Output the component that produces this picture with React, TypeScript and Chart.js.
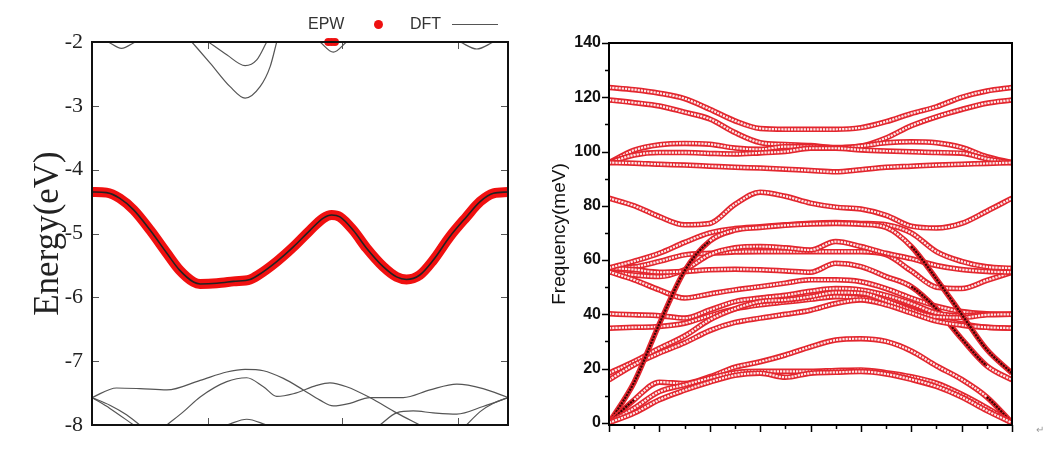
import React, { useEffect, useRef } from "react";
import { Chart, registerables } from "chart.js";
Chart.register(...registerables);

// ---------------- Left panel: electronic bands ----------------
const leftYTicks = [-8, -7, -6, -5, -4, -3, -2];
const leftXTicks = [0.279, 0.601, 0.88];

// EPW interpolated band (red)
const epwK = [0, 0.035, 0.067, 0.1, 0.14, 0.18, 0.21, 0.244, 0.26, 0.3, 0.34, 0.38, 0.4, 0.444, 0.484, 0.524, 0.556, 0.576, 0.596, 0.628, 0.66, 0.7, 0.732, 0.756, 0.788, 0.82, 0.86, 0.9, 0.933, 0.965, 1.0];
const epwE = [-4.35, -4.36, -4.45, -4.63, -4.95, -5.31, -5.57, -5.76, -5.79, -5.78, -5.75, -5.72, -5.65, -5.44, -5.21, -4.95, -4.76, -4.71, -4.74, -4.95, -5.23, -5.52, -5.68, -5.72, -5.65, -5.42, -5.05, -4.74, -4.5, -4.37, -4.35];
const epwTopK = [0.568, 0.576, 0.584];
const epwTopE = [-2, -2, -2];

// DFT bands (gray lines)
const dftArcAK = [0.039, 0.071, 0.104];
const dftArcAE = [-2, -2.1, -2];
const dftVOuterK = [0.24, 0.284, 0.332, 0.368, 0.404, 0.428, 0.444];
const dftVOuterE = [-2, -2.33, -2.7, -2.88, -2.7, -2.39, -2];
const dftVInnerK = [0.28, 0.324, 0.368, 0.396, 0.42];
const dftVInnerE = [-2, -2.2, -2.37, -2.28, -2];
const dftArcCK = [0.548, 0.58, 0.612];
const dftArcCE = [-2, -2.16, -2];
const dftArcDK = [0.885, 0.925, 0.965];
const dftArcDE = [-2, -2.11, -2];
const dftPK = [0, 0.059, 0.115, 0.18, 0.26, 0.324, 0.368, 0.412, 0.46, 0.508, 0.548, 0.58, 0.62, 0.668, 0.748, 0.8125, 0.877, 0.94, 1];
const dftPE = [-7.57, -7.42, -7.43, -7.45, -7.3, -7.17, -7.13, -7.15, -7.27, -7.45, -7.61, -7.7, -7.66, -7.57, -7.57, -7.45, -7.36, -7.43, -7.57];
const dftQK = [0.18, 0.22, 0.26, 0.324, 0.372, 0.412, 0.444, 0.484, 0.54, 0.572, 0.612, 0.668, 0.732, 0.788];
const dftQE = [-8.0, -7.79, -7.56, -7.32, -7.26, -7.4, -7.55, -7.51, -7.38, -7.34, -7.4, -7.57, -7.81, -8.0];
const dftRK = [0.692, 0.732, 0.772, 0.82, 0.877, 0.94, 1];
const dftRE = [-8.0, -7.81, -7.78, -7.81, -7.83, -7.71, -7.57];
const dftSK = [0.9, 0.933, 0.965, 1];
const dftSE = [-8.0, -7.79, -7.66, -7.57];
const dftL1K = [0, 0.043, 0.083, 0.115];
const dftL1E = [-7.57, -7.69, -7.84, -8.0];
const dftL2K = [0, 0.043, 0.1];
const dftL2E = [-7.57, -7.74, -8.0];
const dftBK = [0.324, 0.372, 0.42];
const dftBE = [-8.0, -7.91, -8.0];

const dftBands: [number[], number[]][] = [
  [dftArcAK, dftArcAE], [dftVOuterK, dftVOuterE], [dftVInnerK, dftVInnerE],
  [dftArcCK, dftArcCE], [dftArcDK, dftArcDE], [dftPK, dftPE], [dftQK, dftQE],
  [dftRK, dftRE], [dftSK, dftSE], [dftL1K, dftL1E], [dftL2K, dftL2E], [dftBK, dftBE],
];

// ---------------- Right panel: phonon dispersion ----------------
const qPos = [0, 1, 2, 3, 4, 5, 6, 7, 8, 9, 10, 11, 12, 13, 14, 15, 16];
const rightYTicks = [0, 20, 40, 60, 80, 100, 120, 140];
const rightYMinor = [10, 30, 50, 70, 90, 110, 130];

const phBand01 = [0, 3.6, 8.5, 12, 15, 17.5, 18.3, 16.8, 18.3, 18.6, 18.9, 18, 16, 13.4, 9.5, 4.5, 0];
const phBand02 = [0, 5.4, 11.5, 14, 16.5, 18.5, 19, 19, 19, 19.3, 19.5, 18.5, 17, 14.6, 10.5, 5.5, 0];
const phBand03 = [0, 8.5, 15, 14.5, 17, 20.5, 22.5, 25, 28, 30.5, 31, 30, 26.5, 21, 16, 9.5, 0];
const phBand04 = [0, 15, 36.5, 56, 67, 71, 72, 72.8, 73.3, 73.5, 73.2, 72, 65, 53, 40, 27, 18.3];
const phBand05 = [15.8, 21.4, 25.7, 29.5, 34, 37, 38.6, 40, 41.5, 44, 45.3, 43.5, 40.5, 37.5, 36, 35.2, 34.9];
const phBand06 = [18.3, 22.6, 27.5, 32, 38, 42, 44.7, 45.3, 46.5, 48, 47.8, 45, 41.5, 39, 38.8, 39.8, 40];
const phBand07 = [34.9, 35.2, 35.5, 36.7, 39.5, 42, 43.5, 44.5, 45.5, 46.5, 46, 44.7, 42, 38.5, 36.5, 35.2, 34.9];
const phBand08 = [40.2, 39.8, 39.5, 38.6, 41.6, 44.7, 46, 47, 48.5, 49.5, 49, 47, 44, 40.5, 39.5, 40, 40];
const phBand09 = [57.1, 59.6, 62.5, 66.5, 70, 71.6, 72.3, 73, 73.6, 73.8, 73.5, 73, 70, 63.1, 59.5, 57.5, 57];
const phBand10 = [57.1, 56.5, 55.5, 55.8, 56.4, 56.6, 56.4, 56, 55.5, 58.8, 57.6, 53.9, 50.2, 42, 31, 21, 15.8];
const phBand11 = [55.7, 52.7, 49, 46, 47.5, 49, 50.2, 51.5, 52.7, 52.7, 52, 49.5, 46, 43, 41, 40.2, 40];
const phBand12 = [55.7, 54.5, 53.9, 56.4, 62, 64.5, 65, 64.5, 63.7, 66.8, 65, 62.5, 60.5, 58, 56.5, 55.8, 55.5];
const phBand13 = [57.1, 57.5, 59.5, 61.9, 62.5, 63, 63.1, 63.1, 63.1, 63.1, 63.1, 62, 56, 50, 49.5, 52.5, 55.5];
const phBand14 = [82.8, 80, 76, 73, 73.5, 80.5, 85, 83.5, 81, 79.5, 78.8, 76.5, 72.5, 71.8, 73.5, 78, 82.8];
const phBand15 = [95.9, 95.7, 95.3, 95, 94.6, 94.2, 93.9, 93.5, 93, 92.5, 93.3, 94.2, 94.6, 95, 95.3, 95.6, 95.9];
const phBand16 = [95.9, 98.7, 99.6, 99.6, 99.3, 99.1, 99.5, 100, 101.2, 101.2, 100.6, 100.2, 99.9, 99.6, 99.4, 97.3, 95.9];
const phBand17 = [95.9, 100.5, 102.5, 103, 102.7, 101.3, 100.8, 101.8, 101.8, 101.3, 102, 103.2, 103.6, 103.2, 101.5, 98.1, 95.9];
const phBand18 = [119, 118, 116.8, 114.5, 112, 107, 103.3, 102.6, 102.2, 101.5, 102, 105, 109.5, 112.8, 115.5, 117.8, 119];
const phBand19 = [123.6, 122.8, 121.5, 119.5, 115.6, 111.3, 108.5, 108.2, 108.2, 108.2, 108.8, 111, 114, 116.5, 120, 122.3, 123.6];

const phononBands = [
  phBand01, phBand02, phBand03, phBand04, phBand05, phBand06, phBand07, phBand08, phBand09, phBand10,
  phBand11, phBand12, phBand13, phBand14, phBand15, phBand16, phBand17, phBand18, phBand19,
];

// ---------------- helpers ----------------
const pts = (xs: number[], ys: number[]) => xs.map((x, i) => ({ x, y: ys[i] }));

const leftDecor = {
  id: "leftDecor",
  afterDatasetsDraw(chart: any) {
    const { ctx, chartArea: a, scales } = chart;
    const xs = scales.x;
    const ys = scales.y;
    ctx.save();
    ctx.strokeStyle = "#555";
    ctx.lineWidth = 1;
    ctx.beginPath();
    leftYTicks.forEach((v) => {
      const y = Math.round(ys.getPixelForValue(v)) + 0.5;
      ctx.moveTo(a.left, y);
      ctx.lineTo(a.left + 7, y);
      ctx.moveTo(a.right, y);
      ctx.lineTo(a.right - 7, y);
    });
    leftXTicks.forEach((v) => {
      const x = Math.round(xs.getPixelForValue(v)) + 0.5;
      ctx.moveTo(x, a.top);
      ctx.lineTo(x, a.top + 7);
      ctx.moveTo(x, a.bottom);
      ctx.lineTo(x, a.bottom - 7);
    });
    ctx.stroke();
    ctx.strokeStyle = "#111";
    ctx.lineWidth = 2;
    ctx.strokeRect(a.left, a.top, a.right - a.left, a.bottom - a.top);
    ctx.restore();
  },
};

const rightDecor = {
  id: "rightDecor",
  afterDatasetsDraw(chart: any) {
    const { ctx, chartArea: a, scales } = chart;
    const xs = scales.x;
    const ys = scales.y;
    ctx.save();
    ctx.strokeStyle = "#000";
    ctx.lineWidth = 1.5;
    ctx.beginPath();
    rightYTicks.forEach((v) => {
      const y = Math.round(ys.getPixelForValue(v)) + 0.5;
      ctx.moveTo(a.left, y);
      ctx.lineTo(a.left - 7, y);
    });
    rightYMinor.forEach((v) => {
      const y = Math.round(ys.getPixelForValue(v)) + 0.5;
      ctx.moveTo(a.left, y);
      ctx.lineTo(a.left - 4, y);
    });
    qPos.forEach((v, i) => {
      const x = Math.round(xs.getPixelForValue(v)) + 0.5;
      ctx.moveTo(x, a.bottom);
      ctx.lineTo(x, a.bottom + (i % 2 === 0 ? 7 : 4));
    });
    ctx.stroke();
    ctx.lineWidth = 2;
    ctx.strokeRect(a.left, a.top, a.right - a.left, a.bottom - a.top);
    ctx.restore();
  },
};

function leftConfig(): any {
  const datasets: any[] = dftBands.map(([k, e]) => ({
    data: pts(k, e),
    borderColor: "#555",
    borderWidth: 1.2,
    pointRadius: 0,
    cubicInterpolationMode: "monotone",
    fill: false,
    order: 3,
  }));
  datasets.push({
    data: pts(epwK, epwE),
    borderColor: "#f01010",
    borderWidth: 10,
    borderCapStyle: "round",
    pointRadius: 0,
    cubicInterpolationMode: "monotone",
    fill: false,
    order: 2,
  });
  datasets.push({
    data: pts(epwK, epwE),
    borderColor: "#222",
    borderWidth: 1.6,
    pointRadius: 0,
    cubicInterpolationMode: "monotone",
    fill: false,
    order: 1,
  });
  datasets.push({
    data: pts(epwTopK, epwTopE),
    showLine: false,
    pointRadius: 4,
    pointBackgroundColor: "#ee1111",
    pointBorderWidth: 0,
    clip: false,
    order: 0,
  });
  return {
    type: "line",
    data: { datasets },
    options: {
      responsive: false,
      animation: false,
      devicePixelRatio: 1,
      layout: { padding: { left: 0, top: 42, right: 22, bottom: 0 } },
      plugins: { legend: { display: false }, tooltip: { enabled: false } },
      scales: {
        x: {
          type: "linear",
          min: 0,
          max: 1,
          ticks: { display: false },
          grid: { display: false, drawTicks: false },
          border: { display: false },
          afterFit: (s: any) => { s.height = 26; },
        },
        y: {
          type: "linear",
          min: -8,
          max: -2,
          afterBuildTicks: (s: any) => { s.ticks = leftYTicks.map((v) => ({ value: v })); },
          ticks: {
            font: { family: "'Liberation Serif', serif", size: 22 },
            color: "#222",
            padding: 9,
            callback: (v: any) => String(v),
          },
          grid: { display: false, drawTicks: false },
          border: { display: false },
          title: {
            display: true,
            text: "Energy(eV)",
            font: { family: "'Liberation Serif', serif", size: 35, lineHeight: 1 },
            color: "#222",
            padding: { top: 31, bottom: 0 },
          },
          afterFit: (s: any) => { s.width = 92; },
        },
      },
    },
    plugins: [leftDecor],
  };
}

function rightConfig(): any {
  const steep = (ctx: any) => {
    const dx = Math.abs(ctx.p1.parsed.x - ctx.p0.parsed.x) || 1;
    const dy = Math.abs(ctx.p1.parsed.y - ctx.p0.parsed.y);
    return dy / dx > 8 ? "#3a0505" : "rgba(255,255,255,0.9)";
  };
  const datasets: any[] = [];
  phononBands.forEach((band, k) => {
    datasets.push({
      data: pts(qPos, band),
      borderColor: "#e3262e",
      borderWidth: 5.5,
      pointRadius: 0,
      cubicInterpolationMode: "monotone",
      fill: false,
      order: 2 * k + 1,
    });
    datasets.push({
      data: pts(qPos, band),
      borderColor: "rgba(255,255,255,0.9)",
      borderWidth: 2.2,
      borderDash: [2.2, 1],
      pointRadius: 0,
      cubicInterpolationMode: "monotone",
      fill: false,
      segment: { borderColor: steep },
      order: 2 * k,
    });
  });
  return {
    type: "line",
    data: { datasets },
    options: {
      responsive: false,
      animation: false,
      devicePixelRatio: 1,
      layout: { padding: { left: 0, top: 43, right: 48, bottom: 0 } },
      plugins: { legend: { display: false }, tooltip: { enabled: false } },
      scales: {
        x: {
          type: "linear",
          min: 0,
          max: 16,
          ticks: { display: false },
          grid: { display: false, drawTicks: false },
          border: { display: false },
          afterFit: (s: any) => { s.height = 26; },
        },
        y: {
          type: "linear",
          min: -0.8,
          max: 140,
          afterBuildTicks: (s: any) => { s.ticks = rightYTicks.map((v) => ({ value: v })); },
          ticks: {
            font: { family: "'Liberation Sans', Arial, sans-serif", size: 16, weight: "bold" },
            color: "#111",
            padding: 8,
            callback: (v: any) => String(v),
          },
          grid: { display: false, drawTicks: false },
          border: { display: false },
          title: {
            display: true,
            text: "Frequency(meV)",
            font: { family: "'Liberation Sans', Arial, sans-serif", size: 19, lineHeight: 1 },
            color: "#111",
            padding: { top: 20, bottom: 0 },
          },
          afterFit: (s: any) => { s.width = 79; },
        },
      },
    },
    plugins: [rightDecor],
  };
}

export default function App() {
  const leftRef = useRef<HTMLCanvasElement>(null);
  const rightRef = useRef<HTMLCanvasElement>(null);

  useEffect(() => {
    const c1 = new Chart(leftRef.current as HTMLCanvasElement, leftConfig());
    const c2 = new Chart(rightRef.current as HTMLCanvasElement, rightConfig());
    return () => {
      c1.destroy();
      c2.destroy();
    };
  }, []);

  const legendText: React.CSSProperties = {
    position: "absolute",
    top: 16,
    fontFamily: "'Liberation Sans', Arial, sans-serif",
    fontSize: 16,
    lineHeight: "16px",
    color: "#333",
    whiteSpace: "nowrap",
  };

  return (
    <div style={{ position: "fixed", left: 0, top: 0, width: 1060, height: 451, background: "#fff", overflow: "hidden" }}>
      <canvas ref={leftRef} width={530} height={451} style={{ position: "absolute", left: 0, top: 0, width: 530, height: 451 }} />
      <canvas ref={rightRef} width={530} height={451} style={{ position: "absolute", left: 530, top: 0, width: 530, height: 451 }} />
      <span style={{ ...legendText, left: 308 }}>EPW</span>
      <div style={{ position: "absolute", left: 374, top: 20, width: 9, height: 9, borderRadius: "50%", background: "#ee1111" }} />
      <span style={{ ...legendText, left: 410 }}>DFT</span>
      <div style={{ position: "absolute", left: 452, top: 24, width: 46, height: 1, background: "#555" }} />
      <span style={{ position: "absolute", left: 1036, top: 424, fontSize: 10, color: "#999", fontFamily: "'Liberation Sans', sans-serif" }}>↵</span>
    </div>
  );
}
